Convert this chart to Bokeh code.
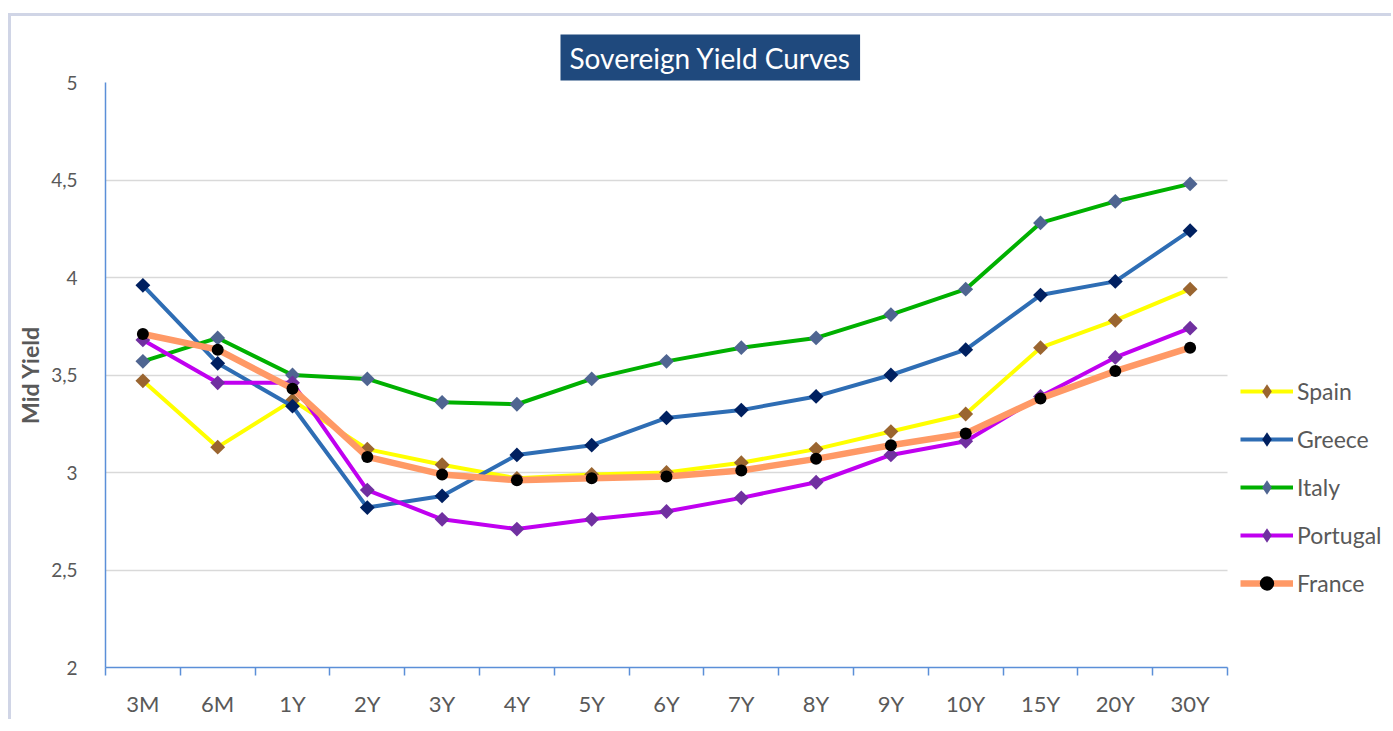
import math
from bokeh.plotting import figure
from bokeh.models import (Range1d, FixedTicker, CustomJSTickFormatter, Legend, LegendItem, Title, Grid)
from bokeh.embed import file_html
from bokeh.resources import INLINE

tenors = ["3M", "6M", "1Y", "2Y", "3Y", "4Y", "5Y", "6Y", "7Y", "8Y", "9Y", "10Y", "15Y", "20Y", "30Y"]
spain = [3.47, 3.13, 3.37, 3.12, 3.04, 2.97, 2.99, 3.00, 3.05, 3.12, 3.21, 3.30, 3.64, 3.78, 3.94]
greece = [3.96, 3.56, 3.34, 2.82, 2.88, 3.09, 3.14, 3.28, 3.32, 3.39, 3.50, 3.63, 3.91, 3.98, 4.24]
italy = [3.57, 3.69, 3.50, 3.48, 3.36, 3.35, 3.48, 3.57, 3.64, 3.69, 3.81, 3.94, 4.28, 4.39, 4.48]
portugal = [3.68, 3.46, 3.46, 2.91, 2.76, 2.71, 2.76, 2.80, 2.87, 2.95, 3.09, 3.16, 3.39, 3.59, 3.74]
france = [3.71, 3.63, 3.43, 3.08, 2.99, 2.96, 2.97, 2.98, 3.01, 3.07, 3.14, 3.20, 3.38, 3.52, 3.64]
y_ticks = [2, 2.5, 3, 3.5, 4, 4.5, 5]

FONT = "Lato"
TXT = "#595959"
AXIS = "#5b8fd8"
GRID = "#d9d9d9"

n = len(tenors)
xs = [i + 0.5 for i in range(n)]  # category centres

PLOT_W = 1122      # width of the category area in px
FRAME_W = 1283     # frame also holds the legend on the right
FRAME_H = 585
x_end = n * FRAME_W / PLOT_W

p = figure(frame_width=FRAME_W, frame_height=FRAME_H, x_range=Range1d(0, x_end), y_range=Range1d(2, 5),
           output_backend="svg", toolbar_location=None,
           min_border_left=94, min_border_right=3, min_border_top=66, min_border_bottom=48)
p.styles = {"margin-left": "8px", "margin-top": "13px",
            "border-left": "3px solid #d0d5e6", "border-top": "3px solid #d0d5e6"}
p.outline_line_color = None
p.background_fill_color = "white"
p.border_fill_color = "white"

# x axis: labels at category centres, tick marks (minor) between categories
xa = p.xaxis[0]
xa.ticker = FixedTicker(ticks=xs, minor_ticks=list(range(n + 1)))
xa.formatter = CustomJSTickFormatter(args=dict(labels=tenors), code="return labels[Math.floor(tick)];")
xa.bounds = (0, n)
xa.major_tick_out = 0
xa.major_tick_in = 0
xa.minor_tick_out = 8
xa.minor_tick_in = 0
xa.minor_tick_line_color = AXIS
xa.minor_tick_line_width = 1.5
xa.axis_line_color = AXIS
xa.axis_line_width = 1.5
xa.major_label_standoff = 14
xa.major_label_text_font = FONT
xa.major_label_text_font_size = "22px"
xa.major_label_text_color = TXT

ya = p.yaxis[0]
ya.ticker = FixedTicker(ticks=y_ticks)
ya.formatter = CustomJSTickFormatter(code="return tick.toString().replace('.', ',');")
ya.major_tick_out = 0
ya.major_tick_in = 0
ya.minor_tick_out = 0
ya.minor_tick_in = 0
ya.axis_line_color = AXIS
ya.axis_line_width = 1.5
ya.major_label_text_font = FONT
ya.major_label_text_font_size = "19px"
ya.major_label_text_color = TXT
ya.major_label_standoff = 28
ya.axis_label = "Mid Yield"
ya.axis_label_text_font = FONT
ya.axis_label_text_font_size = "23px"
ya.axis_label_text_font_style = "bold"
ya.axis_label_text_color = TXT
ya.axis_label_standoff = 4

p.xgrid.visible = False
if "cross_bounds" in Grid.properties():
    p.ygrid.grid_line_color = GRID
    p.ygrid.grid_line_width = 1.5
    p.ygrid.cross_bounds = (0, n)
else:
    p.ygrid.visible = False
    p.segment(x0=0, x1=n, y0=y_ticks, y1=y_ticks, line_color=GRID, line_width=1.5)

series = [
    ("Spain", spain, "#ffff00", "#9a6530", 4, "diamond"),
    ("Greece", greece, "#2e6db4", "#002060", 4, "diamond"),
    ("Italy", italy, "#00b000", "#4f6591", 4, "diamond"),
    ("Portugal", portugal, "#c000f0", "#7030a0", 4, "diamond"),
    ("France", france, "#ff9966", "#000000", 6.5, "circle"),
]
nan = float("nan")
items = []
for name, vals, lc, mc, lw, mk in series:
    rl = p.line(xs, vals, line_color=lc, line_width=lw)
    if mk == "diamond":
        p.scatter(xs, vals, marker="square", angle=math.pi / 4, size=10.5,
                  fill_color=mc, line_color=None)
        # legend-only proxy marker (legend glyphs are drawn unrotated)
        rm = p.scatter(x=[nan], y=[nan], marker="diamond", size=10.5, fill_color=mc, line_color=None)
    else:
        rm = p.scatter(xs, vals, marker="circle", size=12, fill_color=mc, line_color=None)
    items.append(LegendItem(label=name, renderers=[rl, rm]))

legend = Legend(items=items, location=(PLOT_W + 13, 66), label_text_font=FONT,
                label_text_font_size="23px", label_text_color=TXT, glyph_width=53,
                glyph_height=36, label_height=36, spacing=12, padding=0, margin=0,
                border_line_color=None, background_fill_alpha=0, label_standoff=4)
p.add_layout(legend)

title = Title(text="Sovereign Yield Curves", align="left", text_font=FONT,
              text_font_size="28px", text_font_style="normal", text_color="white",
              background_fill_color="#1f497d", offset=455, standoff=4)
if "padding" in Title.properties():
    title.padding = (9, 6)
p.title = title

open("out.html", "w").write(file_html(p, INLINE))
